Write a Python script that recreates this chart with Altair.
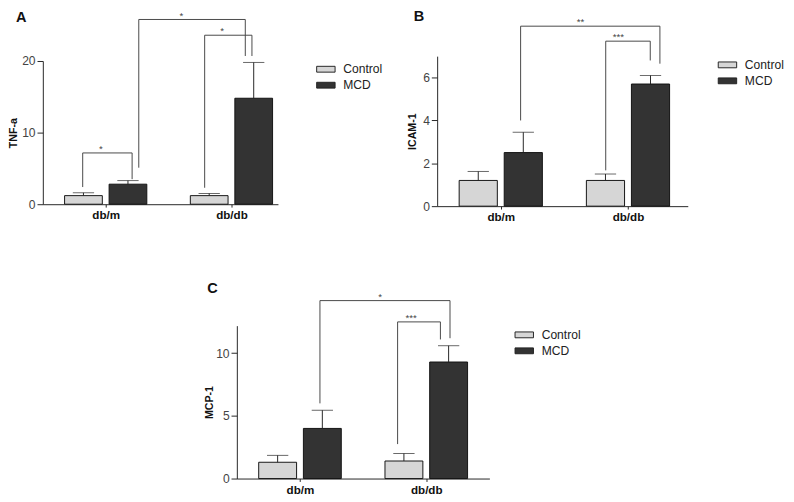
import altair as alt
import pandas as pd

FONT = "Liberation Sans"

groups = ["db/m", "db/db"]
series = ["Control", "MCD"]
bar_colors = ["#d6d6d6", "#333333"]

# order of values: db/m Control, db/m MCD, db/db Control, db/db MCD
tnf_mean = [1.2, 2.8, 1.2, 14.8]
tnf_err = [0.4, 0.5, 0.3, 5.0]
icam_mean = [1.2, 2.5, 1.2, 5.7]
icam_err = [0.42, 0.95, 0.3, 0.4]
mcp_mean = [1.3, 4.0, 1.4, 9.3]
mcp_err = [0.55, 1.45, 0.6, 1.3]

# significance brackets, in x-axis units (groups at 1 and 2) and y data units
# columns: left x, right x, top y, left leg end, right leg end, label, label x
tnf_brackets = [
    (0.817, 1.21, 7.16, 2.4, 3.5, "*", 0.961),
    (1.787, 2.163, 23.6, 2.3, 20.7, "*", 1.925),
    (1.263, 2.11, 25.8, 5.1, 20.7, "*", 1.602),
]
icam_brackets = [
    (1.156, 2.251, 8.4, 4.0, 6.65, "**", 1.627),
    (1.825, 2.175, 7.7, 1.67, 6.8, "***", 1.924),
]
mcp_brackets = [
    (1.158, 2.188, 14.2, 6.0, 11.2, "*", 1.635),
    (1.773, 2.112, 12.5, 2.75, 11.1, "***", 1.881),
]

# panel letters, anchored in each panel's own axis units
panel_letters = [("A", 0.329, 25.5), ("B", 0.357, 8.63), ("C", 0.308, 14.8)]

BAR_SHIFT = 0.177
BAR_HALF = 0.15
LEGEND_SYMBOL = "M-1.36,-0.43L1.36,-0.43L1.36,0.43L-1.36,0.43Z"


def panel(letter_row, ytitle, means, errs, brackets, ymax, yticks, height, width, xmax,
          legend_offset, legend_pad, ytitle_pad, yrange=None):
    rows = []
    for gi, g in enumerate(groups):
        for si, s in enumerate(series):
            k = gi * 2 + si
            c = gi + 1 + (-BAR_SHIFT if si == 0 else BAR_SHIFT)
            rows.append(dict(group=g, series=s, xc=c, xl=c - BAR_HALF, xr=c + BAR_HALF,
                             mean=means[k], top=means[k] + errs[k]))
    df = pd.DataFrame(rows)
    bdf = pd.DataFrame(brackets, columns=["x1", "x2", "top", "lend", "rend", "label", "lx"])
    ldf = pd.DataFrame([letter_row], columns=["letter", "x", "y"])

    label_expr = "[" + ",".join("'" + g + "'" for g in groups) + "][datum.value - 1]"
    xs = alt.Scale(domain=[0.5, xmax], nice=False, zero=False)
    if yrange is None:
        ys = alt.Scale(domain=[0, ymax], nice=False)
    else:
        ys = alt.Scale(domain=[0, ymax], nice=False, range=yrange)
    xaxis = alt.Axis(values=[1, 2], labelExpr=label_expr, title=None, grid=False,
                     tickSize=3, labelFontWeight="bold", labelFontSize=12,
                     labelColor="#111", labelPadding=3, domainColor="#222",
                     tickColor="#222", labelFont=FONT)
    yaxis = alt.Axis(values=yticks, title=ytitle, grid=False, tickSize=6,
                     labelFontSize=12.5, labelColor="#444", labelPadding=2,
                     domainColor="#222", tickColor="#222", titleFontSize=11,
                     titleFontWeight="bold", titleColor="#111", titlePadding=ytitle_pad,
                     labelFont=FONT, titleFont=FONT)

    base = alt.Chart(df)
    bars = base.mark_bar(stroke="#111", strokeWidth=1).encode(
        x=alt.X("xl:Q", scale=xs, axis=xaxis),
        x2="xr:Q",
        y=alt.Y("mean:Q", scale=ys, axis=yaxis),
        y2=alt.datum(0),
        color=alt.Color("series:N", scale=alt.Scale(domain=series, range=bar_colors),
                        legend=alt.Legend(title=None, orient="right", offset=legend_offset,
                                          symbolType=LEGEND_SYMBOL,
                                          symbolSize=196, symbolStrokeColor="#222",
                                          symbolStrokeWidth=1, labelFontSize=12.5,
                                          labelColor="#222", labelOffset=10.5,
                                          rowPadding=2.5, padding=legend_pad, labelFont=FONT)),
    )
    err = base.mark_rule(color="#222", strokeWidth=1).encode(
        x="xc:Q", y="mean:Q", y2="top:Q")
    cap = base.mark_tick(color="#222", orient="horizontal", size=22, thickness=1).encode(
        x="xc:Q", y="top:Q")

    bb = alt.Chart(bdf)
    hline = bb.mark_rule(color="#444", strokeWidth=1).encode(
        x="x1:Q", x2="x2:Q", y="top:Q")
    lleg = bb.mark_rule(color="#444", strokeWidth=1).encode(
        x="x1:Q", y="lend:Q", y2="top:Q")
    rleg = bb.mark_rule(color="#444", strokeWidth=1).encode(
        x="x2:Q", y="rend:Q", y2="top:Q")
    stars = bb.mark_text(fontSize=10, color="#444", baseline="alphabetic", dy=-1,
                         font=FONT).encode(x="lx:Q", y="top:Q", text="label:N")
    letter = alt.Chart(ldf).mark_text(fontSize=15, fontWeight="bold", color="#111",
                                      baseline="alphabetic", align="center",
                                      font=FONT).encode(x="x:Q", y="y:Q", text="letter:N")

    return alt.layer(bars, err, cap, hline, lleg, rleg, stars, letter).properties(
        width=width, height=height)


pa = panel(panel_letters[0], "TNF-a", tnf_mean, tnf_err, tnf_brackets, 20,
           [0, 5, 10, 15, 20], 153, 243, 2.37, 35.5, 6, 3, yrange=[153, 5])
pb = panel(panel_letters[1], "ICAM-1", icam_mean, icam_err, icam_brackets, 7,
           [0, 2, 4, 6], 155, 259, 2.47, 32, 1.5, 5)
pc = panel(panel_letters[2], "MCP-1", mcp_mean, mcp_err, mcp_brackets, 12.2,
           [0, 5, 10], 158, 261, 2.5, 25.5, 2, 1)

# invisible 1px layout spacer that indents the lower panel
spacer = alt.Chart(pd.DataFrame({"v": [0]})).mark_rect(opacity=0).encode(
    x=alt.value(0), x2=alt.value(1), y=alt.value(0), y2=alt.value(1)
).properties(width=1, height=1)

top = alt.hconcat(pa, pb, spacing=19.5).resolve_scale(color="independent")
bottom = alt.hconcat(spacer, pc, spacing=165.5)
chart = alt.vconcat(top, bottom, spacing=60.5).resolve_scale(
    x="independent", y="independent", color="independent"
).properties(padding={"left": 0, "top": -7.5, "right": 0, "bottom": 0}
).configure_view(stroke=None)

chart.save("out.html", embed_options={"renderer": "svg", "actions": False})
